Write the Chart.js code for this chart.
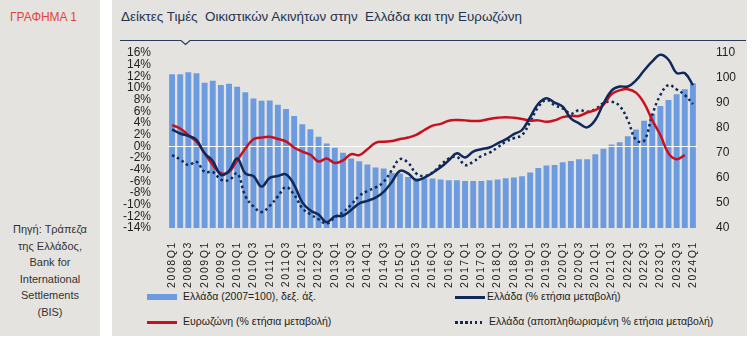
<!DOCTYPE html>
<html>
<head>
<meta charset="utf-8">
<script src="https://cdn.jsdelivr.net/npm/chart.js@4.4.1/dist/chart.umd.min.js"></script>
<style>
  body { margin: 0; background: #fff; font-family: Arial, "Liberation Sans", sans-serif; }
  #wrap { position: relative; width: 754px; height: 340px; overflow: hidden; }
  .panel { position: absolute; background: #e5e3df; }
  #side { left: 0; top: 0; width: 100px; height: 336px; }
  #main { left: 112px; top: 0; width: 635px; height: 336px; }
  #tag { position: absolute; left: 10px; top: 10px; font-size: 12px; color: #e3433b; }
  #source { position: absolute; left: 0; top: 221px; width: 100px; text-align: center; font-size: 11px; line-height: 16.5px; color: #333; }
  #title { position: absolute; left: 121px; top: 9px; font-size: 13.4px; color: #24324f; white-space: pre; }
  #rule { position: absolute; left: 120px; top: 36px; }
  #chart { position: absolute; left: 112px; top: 44px; }
  .leg { position: absolute; font-size: 10.5px; color: #222; white-space: nowrap; }
  .sw { position: absolute; }
</style>
</head>
<body>
<div id="wrap">
  <div class="panel" id="side"></div>
  <div class="panel" id="main"></div>
  <div id="tag">ΓΡΑΦΗΜΑ 1</div>
  <div id="source">Πηγή: Τράπεζα<br>της Ελλάδος,<br>Bank for<br>International<br>Settlements<br>(BIS)</div>
  <div id="title">Δείκτες Τιμές  Οικιστικών Ακινήτων στην  Ελλάδα και την Ευρωζώνη</div>
  <svg id="rule" width="626" height="10"><polyline points="0,4.5 61,4.5 65.5,8.5 70,4.5 626,4.5" fill="none" stroke="#2a3a5c" stroke-width="1.2"/></svg>
  <canvas id="chart" width="636" height="246"></canvas>

  <div class="sw" style="left:147px;top:294px;width:30px;height:6px;background:#6c9bdf"></div>
  <div class="leg" style="left:183px;top:290px">Ελλάδα (2007=100), δεξ. άξ.</div>
  <div class="sw" style="left:455px;top:296px;width:30px;height:3px;background:#10285a"></div>
  <div class="leg" style="left:487px;top:290px">Ελλάδα (% ετήσια μεταβολή)</div>
  <div class="sw" style="left:147px;top:321px;width:30px;height:3px;background:#c8101e"></div>
  <div class="leg" style="left:183px;top:315px">Ευρωζώνη (% ετήσια μεταβολή)</div>
  <div class="sw" style="left:455px;top:321px;width:30px;height:3px;background:repeating-linear-gradient(90deg,#10285a 0 2.5px,transparent 2.5px 5px)"></div>
  <div class="leg" style="left:489px;top:315px">Ελλάδα (αποπληθωρισμένη % ετήσια μεταβολή)</div>
</div>

<script>
// quarters 2008Q1 .. 2024Q1
const quarters = [];
for (let y = 2008; y <= 2024; y++) {
  for (let q = 1; q <= 4; q++) {
    if (y === 2024 && q > 1) break;
    quarters.push(y + "Q" + q);
  }
}

// Ελλάδα (2007=100), right axis
const greeceIndex = [
  101.5, 101.5, 102.3, 101.9, 98.1, 98.9, 97.2, 97.7, 96.5, 94.3,
  91.8, 90.9, 91.0, 89.3, 87.6, 84.8, 81.5, 79.5, 76.5, 73.8,
  72.1, 70.1, 67.8, 66.7, 65.4, 64.2, 63.8, 62.0, 61.8, 60.4,
  59.9, 59.9, 59.8, 59.4, 59.1, 59.1, 58.8, 58.8, 58.8, 59.1,
  59.4, 59.9, 60.2, 60.7, 62.2, 64.0, 65.0, 65.2, 66.3, 66.8,
  67.5, 67.5, 69.5, 71.7, 73.4, 74.3, 76.7, 79.4, 82.9, 85.6,
  88.8, 91.2, 93.5, 95.5, 97.9
];

// Ελλάδα % ετήσια μεταβολή
const greeceYoY = [
  2.9, 2.2, 1.8, 1.1, -1.2, -2.5, -4.9, -4.2, -2.1, -4.65,
  -5.1, -6.9, -5.4, -5.1, -4.8, -6.6, -9.6, -11.0, -11.7, -13.0,
  -12.0, -11.9, -10.9, -9.8, -9.35, -8.8, -7.8, -6.1, -4.2, -4.65,
  -5.8, -5.35, -4.55, -3.6, -2.4, -1.2, -1.9, -0.9, -0.5, -0.2,
  0.5, 1.2, 2.1, 2.8, 5.0, 7.3, 8.25, 7.5, 6.8, 4.8,
  3.95, 3.25, 4.5, 7.3, 9.55, 10.25, 10.25, 11.3, 13.0, 14.55,
  15.7, 14.85, 12.55, 12.55, 10.5
];

// Ευρωζώνη % ετήσια μεταβολή
const euroYoY = [
  3.65, 3.05, 1.9, 0.8, -1.2, -3.2, -4.6, -4.4, -2.4, -0.4,
  1.2, 1.5, 1.65, 1.25, 0.85, -0.2, -0.9, -1.45, -2.6, -2.1,
  -2.85, -2.4, -1.35, -1.5, -0.5, 0.6, 0.8, 0.9, 1.25, 1.5,
  1.95, 2.8, 3.55, 3.85, 4.4, 4.5, 4.45, 4.35, 4.4, 4.7,
  4.9, 5.0, 4.9, 4.7, 4.4, 4.45, 4.2, 4.45, 5.0, 5.2,
  5.2, 5.8, 6.2, 7.1, 8.95, 9.6, 9.8, 9.2, 7.4, 4.5,
  1.95, -1.2, -2.2, -1.5, null
];

// Ελλάδα αποπληθωρισμένη % ετήσια μεταβολή
const greeceRealYoY = [
  -1.5, -2.25, -3.2, -2.65, -4.4, -4.4, -5.7, -5.8, -4.65, -8.5,
  -10.3, -11.25, -10.2, -8.6, -7.0, -8.3, -10.6, -11.65, -12.5, -13.25,
  -12.15, -11.3, -10.0, -8.5, -7.65, -7.05, -6.1, -4.1, -2.2, -2.8,
  -4.65, -5.1, -4.5, -3.2, -2.1, -1.8, -3.2, -2.65, -1.65, -1.1,
  -0.2, 0.8, 1.4, 1.95, 4.2, 6.75, 7.95, 7.05, 6.5, 5.6,
  6.2, 5.95, 6.35, 7.4, 7.65, 6.9, 4.5, 1.1, 0.95, 5.4,
  8.8, 10.5, 9.75, 8.8, 7.25
];

const navy = "#10285a";
const red = "#c8101e";
const barBlue = "#6c9bdf";
const tickFont = { family: "Arial, 'Liberation Sans'", size: 12 };

// white 0% line above the bars but under the lines
const zeroLine = {
  id: "zeroLine",
  afterDatasetDraw(chart, args) {
    if (args.index !== 0) return;
    const { ctx, chartArea, scales } = chart;
    const y = Math.round(scales.y.getPixelForValue(0)) + 0.5;
    ctx.save();
    ctx.strokeStyle = "#ffffff";
    ctx.lineWidth = 1;
    ctx.beginPath();
    ctx.moveTo(chartArea.left, y);
    ctx.lineTo(chartArea.right, y);
    ctx.stroke();
    ctx.restore();
  },
};

// fixed axis box sizes so the plot sits where the original one does
const fixWidth = (w) => (scale) => {
  scale.width = w;
  scale.paddingTop = 0;
  scale.paddingBottom = 0;
};

const lineDefaults = { type: "line", yAxisID: "y", pointRadius: 0, borderWidth: 2.5, tension: 0.4, fill: false, spanGaps: false };

const chart = new Chart(document.getElementById("chart"), {
  data: {
    labels: quarters,
    datasets: [
      { type: "bar", label: "Ελλάδα (2007=100), δεξ. άξ.", data: greeceIndex, yAxisID: "y1", backgroundColor: barBlue, barPercentage: 0.72, categoryPercentage: 1, order: 10 },
      { ...lineDefaults, label: "Ελλάδα (% ετήσια μεταβολή)", data: greeceYoY, borderColor: navy, order: 1 },
      { ...lineDefaults, label: "Ευρωζώνη (% ετήσια μεταβολή)", data: euroYoY, borderColor: red, order: 2 },
      { ...lineDefaults, label: "Ελλάδα (αποπληθωρισμένη % ετήσια μεταβολή)", data: greeceRealYoY, borderColor: navy, borderDash: [2.5, 3], borderCapStyle: "butt", order: 3 },
    ],
  },
  options: {
    responsive: false,
    animation: false,
    layout: { padding: { top: 9, left: 0, right: 0, bottom: 0 } },
    plugins: { legend: { display: false }, tooltip: { enabled: false } },
    scales: {
      x: {
        offset: true,
        grid: { display: false },
        border: { display: false },
        afterFit(scale) { scale.height = 62; },
        ticks: {
          autoSkip: false,
          maxRotation: 90,
          minRotation: 90,
          padding: 5,
          color: "#222",
          font: { family: "Arial, 'Liberation Sans'", size: 10.5 },
          callback: (v, i) => (i % 2 === 0 ? quarters[i] : ""),
        },
      },
      y: {
        position: "left",
        min: -14,
        max: 16,
        grid: { display: false },
        border: { display: false },
        afterFit: fixWidth(56),
        ticks: { stepSize: 2, autoSkip: false, padding: 9, color: "#222", font: tickFont, callback: (v) => v + "%" },
      },
      y1: {
        position: "right",
        min: 40,
        max: 110,
        grid: { display: false },
        border: { display: false },
        afterFit: fixWidth(51),
        ticks: { stepSize: 10, autoSkip: false, padding: 11, color: "#222", font: tickFont },
      },
    },
  },
  plugins: [zeroLine],
});

// spaced-out quarter labels, like the original
const xScale = chart.scales.x;
const drawXLabels = xScale.drawLabels;
xScale.drawLabels = function (area) {
  this.ctx.save();
  this.ctx.letterSpacing = "1.6px";
  drawXLabels.call(this, area);
  this.ctx.restore();
};
chart.draw();
</script>
</body>
</html>
